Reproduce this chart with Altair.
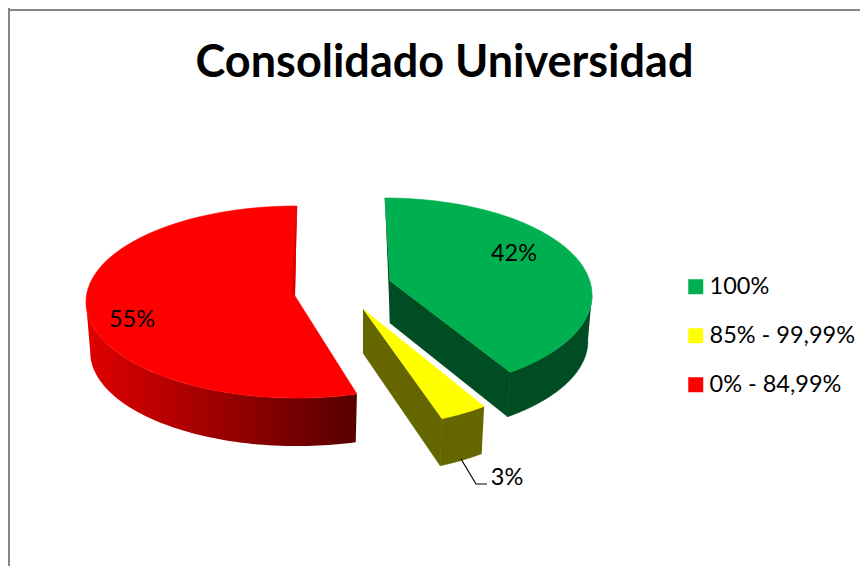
import math
import altair as alt
import pandas as pd

TITLE = "Consolidado Universidad"
categories = ["100%", "85% - 99,99%", "0% - 84,99%"]
shares = [42, 3, 55]
share_labels = ["42%", "3%", "55%"]
top_colors = ["#00B050", "#FFFF00", "#FF0000"]
side_colors = ["#004D23", "#666600", "#A00000"]
red_side_stops = ["#E00000", "#560000"]

# view of each exploded slice: ellipse centre, radii, apex, depth, angle corrections
centres = [(385, 295), (361, 322), (297, 302)]
radii = [(207, 97), (207, 105), (211, 96)]
apexes = [(390, 281), (363, 309), (295, 296)]
depths = [46, 49, 50]
apex_depths = [42, 44, 44]
start_shift = [0.0, -7.7, 1.5]
end_shift = [-8.4, -5.0, 0.0]
label_at = [(514, 254), (507, 478), (132, 320)]
leader_x = [461, 476, 487]
leader_y = [459, 484, 484]
SHRINK = 0.98
W, H = 852, 558
FONT = "Lato"


def ell(k, deg, lower=False):
    cx, cy = centres[k]
    rx, ry = radii[k]
    s = SHRINK if lower else 1.0
    a = math.radians(deg)
    return (cx + rx * s * math.sin(a), cy - ry * s * math.cos(a) + (depths[k] if lower else 0))


def arc(k, a, b, lower=False, n=70):
    return [ell(k, a + (b - a) * i / n, lower) for i in range(n + 1)]


def poly(points, fill):
    df = pd.DataFrame({"x": [p[0] for p in points], "y": [p[1] for p in points], "i": range(len(points))})
    if isinstance(fill, str):
        mark = alt.Chart(df).mark_line(fill=fill, stroke=fill, strokeWidth=0.6)
    else:
        mark = alt.Chart(df).mark_line(fill=fill, strokeOpacity=0)
    return mark.encode(
        x=alt.X("x:Q", scale=X, axis=None),
        y=alt.Y("y:Q", scale=Y, axis=None),
        order="i:O",
    )


X = alt.Scale(domain=[8, 8 + W], range=[0, W], nice=False, zero=False)
Y = alt.Scale(domain=[8, 8 + H], range=[0, H], nice=False, zero=False)

angles = []
run = 0.0
for v in shares:
    angles.append((run, run + v * 3.6))
    run += v * 3.6
spans = [(a + s, b + e) for (a, b), s, e in zip(angles, start_shift, end_shift)]

layers = []
for k in range(3):
    a, b = spans[k]
    ax, ay = apexes[k]
    ay2 = ay + apex_depths[k]
    start, end = ell(k, a), ell(k, b)
    end_low = ell(k, b, True)
    if k == 0:
        vis = 90
        outer = arc(k, vis, b) + arc(k, vis, b, True)[::-1]
        layers.append(poly(outer, side_colors[k]))
        layers.append(poly([start, (ax, ay), (ax, ay2)], side_colors[k]))
        layers.append(poly([(ax, ay), end, end_low, (ax, ay2)], side_colors[k]))
    elif k == 1:
        outer = arc(k, a, b) + arc(k, a, b, True)[::-1]
        layers.append(poly(outer, side_colors[k]))
        layers.append(poly([(ax, ay), end, end_low, (ax, ay2)], side_colors[k]))
    else:
        grad = alt.Gradient(
            gradient="linear", x1=0, x2=1, y1=0, y2=0,
            stops=[alt.GradientStop(offset=0, color=red_side_stops[0]),
                   alt.GradientStop(offset=1, color=red_side_stops[1])],
        )
        outer = arc(k, a, 270) + arc(k, a, 270, True)[::-1]
        layers.append(poly(outer, grad))
    layers.append(poly([(ax, ay)] + arc(k, a, b), top_colors[k]))

# thin back wall visible on the red slice
r_end = ell(2, spans[2][1])
layers.append(poly([r_end, (apexes[2][0] - 3, apexes[2][1] - 6), apexes[2]], "#D80000"))

frame_top = pd.DataFrame({"x": [8, 8 + W], "y": [10, 10]})
frame_left = pd.DataFrame({"x": [9, 9], "y": [8, 8 + H]})
for fr in (frame_top, frame_left):
    layers.append(alt.Chart(fr).mark_line(color="#868686", strokeWidth=2).encode(
        x=alt.X("x:Q", scale=X, axis=None), y=alt.Y("y:Q", scale=Y, axis=None)))

leader = pd.DataFrame({"x": leader_x, "y": leader_y, "i": range(3)})
layers.append(alt.Chart(leader).mark_line(color="#000000", strokeWidth=1.2).encode(
    x=alt.X("x:Q", scale=X, axis=None), y=alt.Y("y:Q", scale=Y, axis=None), order="i:O"))

labels = pd.DataFrame({"x": [p[0] for p in label_at], "y": [p[1] for p in label_at], "t": share_labels})
layers.append(alt.Chart(labels).mark_text(font=FONT, fontSize=23.5, color="#000000").encode(
    x=alt.X("x:Q", scale=X, axis=None), y=alt.Y("y:Q", scale=Y, axis=None), text="t:N"))

legend_df = pd.DataFrame({"cat": categories, "x": [700] * 3, "y": [286] * 3})
layers.append(alt.Chart(legend_df).mark_square(size=0, opacity=1).encode(
    x=alt.X("x:Q", scale=X, axis=None), y=alt.Y("y:Q", scale=Y, axis=None),
    color=alt.Color("cat:N", scale=alt.Scale(domain=categories, range=top_colors),
                    legend=alt.Legend(title=None, orient="none", legendX=676, legendY=267,
                                      symbolType="square", symbolSize=225, symbolStrokeWidth=0,
                                      labelFont=FONT, labelFontSize=23.5, labelColor="#000000",
                                      rowPadding=24, labelOffset=2, symbolOpacity=1)),
))

chart = alt.layer(*layers).properties(
    width=W, height=H, padding=0, autosize=alt.AutoSizeParams(type="none"),
    title=alt.TitleParams(TITLE, font=FONT, fontSize=45, fontWeight="bold", color="#000000",
                          anchor="middle", dx=10.5, dy=86),
).configure_view(stroke=None)

chart.save("out.html", embed_options={"renderer": "svg", "actions": False})
